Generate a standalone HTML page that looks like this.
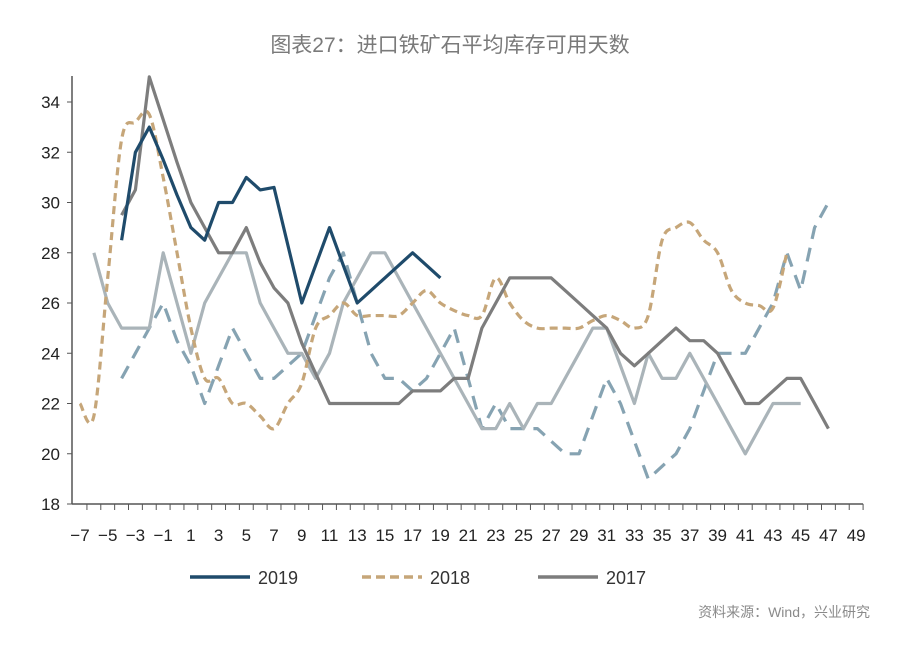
<!DOCTYPE html>
<html><head><meta charset="utf-8"><style>
body{margin:0;background:#fff;}
svg text{font-family:"Liberation Sans","Noto Sans CJK SC",sans-serif;}
</style></head><body>
<svg id="c" width="900" height="644" viewBox="0 0 900 644">
<text x="450" y="52" text-anchor="middle" font-size="21" fill="#7a7a7a">图表27：进口铁矿石平均库存可用天数</text>
<g id="axes"></g>
<g id="series"></g>
<g>
<line x1="190" y1="577" x2="250" y2="577" stroke="#1f4b6b" stroke-width="3.5"/>
<text x="258" y="584" font-size="18" fill="#333">2019</text>
<line x1="362" y1="577" x2="422" y2="577" stroke="#c6a679" stroke-width="3.5" stroke-dasharray="9,5"/>
<text x="430" y="584" font-size="18" fill="#333">2018</text>
<line x1="538" y1="577" x2="598" y2="577" stroke="#7d7d7d" stroke-width="3.5"/>
<text x="606" y="584" font-size="18" fill="#333">2017</text>
</g>
<text x="870" y="617" text-anchor="end" font-size="14" fill="#8a8a8a">资料来源：Wind，兴业研究</text>
</svg>
<script>
const yTicks=[18,20,22,24,26,28,30,32,34];
const xLabels=[-7,-5,-3,-1,1,3,5,7,9,11,13,15,17,19,21,23,25,27,29,31,33,35,37,39,41,43,45,47,49];
const start2019=-4;
const v2019=[28.5,32,33,31.7,30.3,29,28.5,30,30,31,30.5,30.6,28.3,26,27.5,29,27.5,26,26.5,27,27.5,28,27.5,27];
const start2018=-7;
const v2018=[22,21.5,27,32.5,33.2,33.5,31,28,25,23,23,22,22,21.5,21,22,22.8,25,25.5,26,25.5,25.5,25.5,25.5,26,26.5,26,25.7,25.5,25.5,27,26,25.3,25,25,25,25,25.3,25.5,25.3,25,25.5,28.5,29,29.2,28.5,28,26.5,26,25.9,25.8,28];
const start2017=-4;
const v2017=[29.5,30.5,35,33.3,31.6,30,29,28,28,29,27.6,26.6,26,24.4,23.2,22,22,22,22,22,22,22.5,22.5,22.5,23,23,25,26,27,27,27,27,26.5,26,25.5,25,24,23.5,24,24.5,25,24.5,24.5,24,23,22,22,22.5,23,23,22,21];
const start2016=-6;
const v2016=[28,26,25,25,25,28,26,24,26,27,28,28,26,25,24,24,23,24,26,27,28,28,27,26,25,24,23,22,21,21,22,21,22,22,23,24,25,25,23.5,22,24,23,23,24,23,22,21,20,21,22,22,22];
const start2015=-4;
const v2015=[23,24,25,26,24.5,23.5,22,23.5,25,24,23,23,23.5,24,25.5,27,28,26,24,23,23,22.5,23,24,25,23,21,22,21,21,21,20.5,20,20,21.5,23,22,20.5,19,19.5,20,21,22.5,24,24,24,25,26,28,26.5,29,30];

const NS="http://www.w3.org/2000/svg";
const X=v=>80+(v+7)*13.86;
const Y=v=>504-(v-18)*25.125;
const axes=document.getElementById('axes'),ser=document.getElementById('series');
function mk(tag,at,parent){const e=document.createElementNS(NS,tag);for(const k in at)e.setAttribute(k,at[k]);parent.appendChild(e);return e;}
let ax=mk('line',{x1:72,y1:76,x2:72,y2:504,stroke:'#555','stroke-width':1.5},axes);


let bx=mk('line',{x1:72,y1:504,x2:X(49.5),y2:504,stroke:'#555','stroke-width':1.5},axes);


yTicks.forEach(t=>{
 mk('line',{x1:67,y1:Y(t),x2:72,y2:Y(t),stroke:'#555'},axes);
 const tx=mk('text',{x:60,y:Y(t)+6,'text-anchor':'end','font-size':17,fill:'#222'},axes);
 tx.textContent=t;
 
 
});
for(let v=-7;v<=49;v++){mk('line',{x1:X(v+0.5),y1:504,x2:X(v+0.5),y2:510,stroke:'#555'},axes);}
xLabels.forEach(t=>{
 const tx=mk('text',{x:X(t),y:541,'text-anchor':'middle','font-size':17,fill:'#222'},axes);
 tx.textContent=String(t).replace('-','\u2212');
 
 
});
function pts(s,vals){return vals.map((v,i)=>[X(s+i),Y(v)]);}
function poly(p){return 'M'+p.map(q=>q[0].toFixed(1)+','+q[1].toFixed(1)).join('L');}
function smooth(p){let d='M'+p[0][0]+','+p[0][1];for(let i=0;i<p.length-1;i++){const p0=p[i-1]||p[i],p1=p[i],p2=p[i+1],p3=p[i+2]||p2;
 const c1=[p1[0]+(p2[0]-p0[0])/6,p1[1]+(p2[1]-p0[1])/6],c2=[p2[0]-(p3[0]-p1[0])/6,p2[1]-(p3[1]-p1[1])/6];
 d+='C'+c1.join(',')+' '+c2.join(',')+' '+p2.join(',');}return d;}
function line(d,color,dash,name){const e=mk('path',{d:d,fill:'none',stroke:color,'stroke-width':3.2,'stroke-linejoin':'round'},ser);
 if(dash)e.setAttribute('stroke-dasharray',dash);
 
 }
line(poly(pts(start2015,v2015)),'#86a3b2','14,9','series-2015');
line(poly(pts(start2016,v2016)),'#aab4b9',null,'series-2016');
line(smooth(pts(start2018,v2018)),'#c6a679','8,5','series-2018');
line(poly(pts(start2017,v2017)),'#7d7d7d',null,'series-2017');
line(poly(pts(start2019,v2019)),'#1f4b6b',null,'series-2019');
</script>
</body></html>
